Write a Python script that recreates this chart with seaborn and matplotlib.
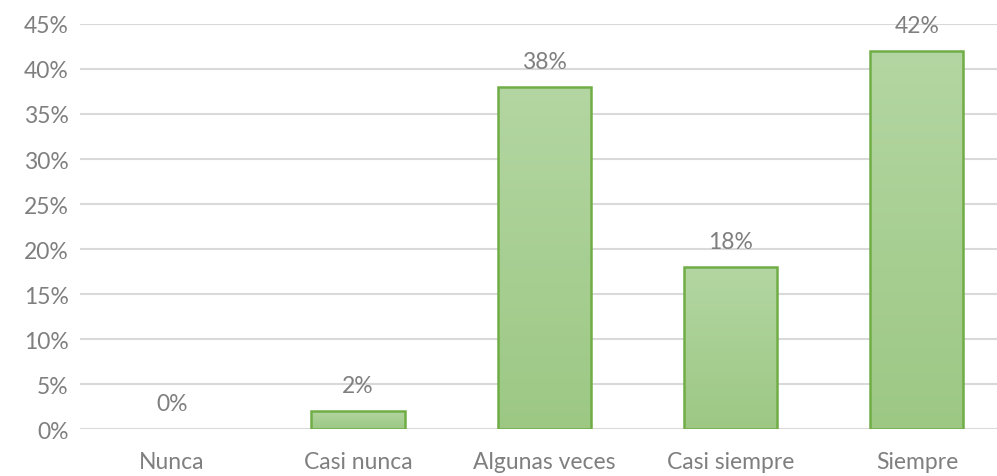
import numpy as np
import pandas as pd
import matplotlib.pyplot as plt
import seaborn as sns
from matplotlib.colors import LinearSegmentedColormap

categories = ['Nunca', 'Casi nunca', 'Algunas veces', 'Casi siempre', 'Siempre']
values = [0, 2, 38, 18, 42]

df = pd.DataFrame({'cat': categories, 'pct': values})

sns.set_style('white')
plt.rcParams['font.family'] = ['Lato', 'DejaVu Sans']

fig, ax = plt.subplots(figsize=(9.97, 4.77), dpi=100)
fig.subplots_adjust(left=0.080, right=1.0, bottom=0.0985, top=0.9476)

sns.barplot(ax=ax, data=df, x='cat', y='pct', width=0.5,
            color='#a9cf94', edgecolor='#70ad47', linewidth=1.8, zorder=3)

# vertical gradient inside each bar
cmap = LinearSegmentedColormap.from_list('g', ['#9cc884', '#b4d6a2'])
grad = np.linspace(0, 1, 256).reshape(-1, 1)
for p in ax.patches:
    x0, y0 = p.get_x(), p.get_y()
    w, h = p.get_width(), p.get_height()
    if h <= 0:
        p.set_visible(False)
        continue
    im = ax.imshow(grad, cmap=cmap, aspect='auto', origin='lower',
                   extent=(x0, x0 + w, y0, y0 + h), zorder=3.5)
    im.set_clip_path(p)
    p.set_facecolor('none')
    p.set_zorder(4)

ax.set_xlim(-0.494, 4.43)
ax.set_ylim(0, 45)
ax.set_yticks(range(0, 46, 5))
ax.set_yticklabels([f'{t}%' for t in range(0, 46, 5)])
ax.grid(True, axis='y', color='#d9d9d9', linewidth=1.5, zorder=0)
ax.set_axisbelow(True)
for s in ax.spines.values():
    s.set_visible(False)
ax.tick_params(length=0, labelsize=16.5, colors='#7f7f7f', pad=8)
ax.tick_params(axis='x', pad=16)
ax.set_xlabel('')
ax.set_ylabel('')

for i, v in enumerate(values):
    ax.annotate(f'{v}%', (i, v), xytext=(0, 11), textcoords='offset points',
                ha='center', va='bottom', fontsize=16.5, color='#7f7f7f', zorder=5)

fig.savefig('out.png', dpi=100)
